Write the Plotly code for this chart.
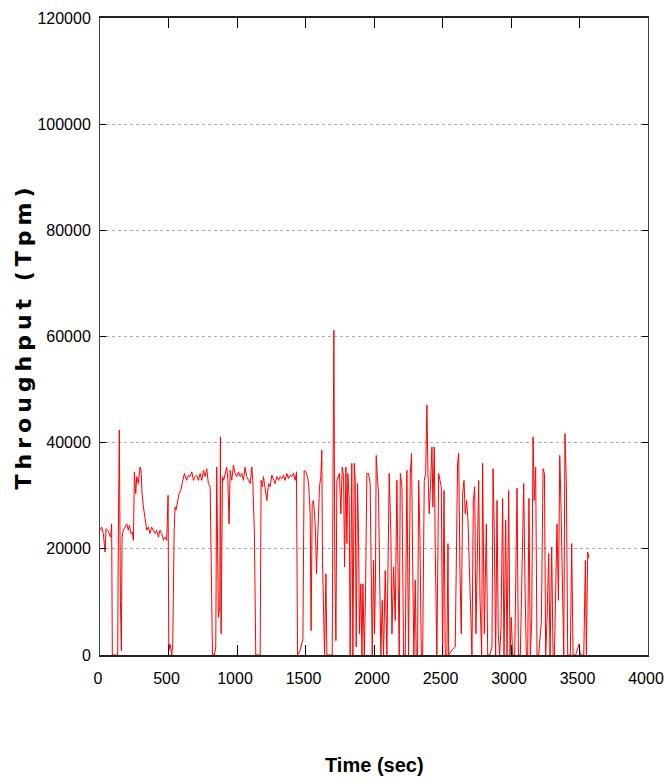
import plotly.graph_objects as go

time_sec = [
    0, 12, 24, 37, 44, 56, 66, 78, 85, 90, 110, 129, 134, 141, 149, 156, 161, 170, 183, 195,
    207, 214, 226, 236, 244, 251, 261, 268, 280, 292, 300, 307, 317, 329, 341, 353, 365, 377, 390, 402,
    414, 426, 438, 450, 463, 475, 487, 497, 502, 511, 524, 531, 541, 548, 555, 565, 577, 589, 601, 616,
    633, 645, 657, 670, 682, 694, 706, 718, 731, 743, 755, 767, 779, 791, 804, 816, 821, 835, 845, 852,
    864, 874, 879, 884, 894, 903, 913, 925, 933, 942, 950, 962, 974, 986, 998, 1011, 1023, 1035, 1047, 1059,
    1071, 1084, 1096, 1108, 1115, 1127, 1137, 1157, 1169, 1176, 1186, 1193, 1205, 1218, 1230, 1242, 1254, 1266, 1278, 1291,
    1303, 1315, 1327, 1339, 1351, 1364, 1376, 1388,
    1400, 1412, 1425, 1434, 1442, 1461, 1481, 1490, 1502, 1515, 1524, 1534, 1541, 1549, 1558, 1566, 1573, 1580, 1588, 1595,
    1602, 1612, 1619, 1624, 1632, 1639, 1649, 1656, 1680, 1695, 1700, 1707, 1714, 1722, 1729, 1739, 1748, 1758, 1768, 1778,
    1785, 1795, 1802, 1809, 1819, 1826, 1838, 1846, 1856, 1863, 1870, 1880, 1887, 1894, 1904, 1912, 1919, 1929, 1938, 1948,
    1960, 1972, 1980, 1987, 1997, 2004, 2011, 2016, 2026, 2033, 2041, 2050, 2060, 2070,
    2082, 2094, 2111, 2123, 2131, 2143, 2155, 2167, 2175, 2184, 2192, 2204, 2216, 2228, 2240, 2252, 2265, 2274, 2282, 2291,
    2301, 2308, 2318, 2326, 2335, 2345, 2355, 2367, 2377, 2386, 2394, 2403, 2413, 2423, 2430, 2440, 2447, 2459, 2472, 2481,
    2491, 2501, 2511, 2520, 2532, 2540, 2545, 2569, 2593, 2610, 2618, 2627, 2637, 2647, 2657, 2666, 2676, 2686, 2696, 2705,
    2715, 2725, 2735, 2744, 2754, 2764, 2774,
    2786, 2793, 2805, 2820, 2830, 2844, 2861, 2869, 2878, 2888, 2898, 2907, 2917, 2927, 2939, 2949, 2961, 2971, 2983, 2993,
    3002, 3012, 3027, 3044, 3054, 3068, 3083, 3093, 3102, 3112, 3122, 3131, 3141, 3151, 3161, 3170, 3180, 3190, 3202, 3214,
    3222, 3234, 3244, 3253, 3263, 3275, 3285, 3297, 3307, 3317, 3326, 3336, 3346, 3356, 3365, 3375, 3385, 3394, 3404, 3414,
    3433, 3443, 3453, 3472, 3482, 3497, 3506, 3531, 3543, 3550, 3560, 3570,
]

throughput_tpm = [
    23500, 24100, 22900, 19400, 23800, 23500, 22900, 22200, 24700, 0, 0, 0, 22900, 42400, 10300, 800, 22200, 23500, 24100, 24700,
    23500, 24400, 22900, 23200, 21600, 34500, 30400, 33600, 32300, 35400, 34800, 30400, 27900, 25400, 23500, 24100, 22900, 24100, 23500, 22900,
    23500, 22200, 23500, 22900, 21600, 22200, 21600, 30100, 800, 2100, 0, 2100, 22900, 27900, 27300, 29100, 30400, 31000, 32300, 34200,
    32900, 33900, 33600, 34500, 32900, 33600, 33900, 32900, 34200, 32900, 34800, 33600, 35100, 32300, 31700, 10300, 0, 0, 1500, 35400,
    7100, 9000, 41100, 4000, 33600, 32900, 34200, 35400, 33200, 24700, 34800, 32900, 35800, 34200, 33600, 34500, 33600, 34200, 32900, 35400,
    33600, 32900, 32300, 35400, 32900, 22900, 0, 0, 0, 32900, 31700, 33600, 31700, 29100, 32300, 31700, 33900, 32900, 32300, 33600,
    32900, 33600, 33200, 33900, 32900, 34200, 33200, 33900,
    33600, 34200, 32900, 34500, 0, 900, 3000, 34800, 34500, 33600, 31700, 26600, 4600, 28500, 29100, 26600, 22900, 15300, 22200, 30400,
    31700, 33600, 38600, 17800, 5900, 0, 15300, 0, 0, 0, 29100, 61200, 16600, 2700, 32900, 33600, 34200, 26600, 35400, 33600,
    16600, 35400, 21000, 34200, 29100, 0, 36100, 0, 36100, 32900, 1500, 32300, 22900, 4000, 13400, 0, 13400, 0, 11500, 34200,
    34200, 32300, 16600, 0, 17800, 4000, 15300, 37600, 32900, 30400, 15300, 0, 10300, 0,
    15900, 0, 34200, 22900, 4000, 16600, 6500, 32900, 16600, 0, 34200, 31700, 0, 0, 34800, 0, 34200, 38000, 17800, 0,
    14100, 0, 0, 32900, 22900, 0, 0, 32900, 34200, 47100, 34200, 26600, 32300, 39200, 27900, 39200, 19700, 0, 34200, 32900,
    31700, 0, 31000, 0, 0, 21000, 0, 900, 1500, 36100, 38000, 16600, 4000, 30400, 32900, 26600, 29100, 25400, 16600, 4000,
    0, 29100, 31700, 4000, 22900, 32900, 10300,
    0, 36100, 4000, 24700, 0, 0, 1500, 35100, 22900, 0, 29100, 4000, 0, 5300, 29500, 0, 25400, 0, 31000, 0,
    7100, 0, 0, 31400, 0, 0, 22900, 32300, 13400, 0, 0, 29500, 0, 6500, 41100, 29100, 35400, 0, 0, 4000,
    6500, 35100, 34200, 0, 6500, 19100, 0, 20300, 0, 0, 10300, 24700, 10300, 37600, 27900, 10300, 0, 41700, 32300, 0,
    0, 21000, 0, 0, 900, 2100, 0, 0, 17800, 0, 19400, 18200,
]

x_ticks = [0, 500, 1000, 1500, 2000, 2500, 3000, 3500, 4000]
y_ticks = [0, 20000, 40000, 60000, 80000, 100000, 120000]
x_title = "Time (sec)"
y_title = "Throughput (Tpm)"

fig = go.Figure(
    go.Scatter(
        x=time_sec,
        y=throughput_tpm,
        mode="lines",
        line=dict(color="#ff0000", width=1),
        showlegend=False,
        hoverinfo="skip",
    )
)

tickfont = dict(family="Liberation Sans, Arial", size=16, color="black")

fig.update_layout(
    width=664,
    height=781,
    margin=dict(l=100, r=16, t=18, b=126, autoexpand=False),
    paper_bgcolor="white",
    plot_bgcolor="white",
    showlegend=False,
)

fig.update_xaxes(
    range=[0, 4000],
    automargin=False,
    tickmode="array",
    tickvals=x_ticks,
    ticktext=[str(v) for v in x_ticks],
    ticks="inside",
    ticklen=10,
    tickwidth=1,
    tickcolor="black",
    showline=True,
    linecolor="#222222",
    linewidth=2,
    mirror="ticks",
    showgrid=False,
    zeroline=False,
    tickfont=tickfont,
    ticklabelstandoff=8,
    ticklabelshift=-2,
    ticklabeloverflow="allow",
)

fig.update_yaxes(
    range=[0, 120000],
    automargin=False,
    tickmode="array",
    tickvals=y_ticks,
    ticktext=[str(v) for v in y_ticks],
    ticks="inside",
    ticklen=6,
    tickwidth=1,
    tickcolor="black",
    showline=True,
    linecolor="#444444",
    linewidth=1,
    mirror="ticks",
    showgrid=True,
    gridcolor="#aaaaaa",
    griddash="dot",
    gridwidth=1,
    zeroline=False,
    tickfont=tickfont,
    ticklabelstandoff=5,
    ticklabeloverflow="allow",
)

fig.add_annotation(
    text="<b>" + x_title + "</b>",
    xref="paper", yref="paper",
    x=0.5, y=-0.1727,
    xanchor="center", yanchor="middle",
    showarrow=False,
    font=dict(family="Liberation Sans, Arial", size=20, color="black"),
)

fig.add_annotation(
    text='<b><span style="letter-spacing:5px">' + y_title + "</span></b>",
    xref="paper", yref="paper",
    x=-0.1405, y=0.5,
    xanchor="center", yanchor="middle",
    textangle=-90,
    showarrow=False,
    font=dict(family="DejaVu Sans", size=22, color="black"),
)

fig.write_html(
    "out.html",
    config={"displayModeBar": False},
    post_script="document.body.style.margin='0';document.body.style.overflow='hidden';",
)
